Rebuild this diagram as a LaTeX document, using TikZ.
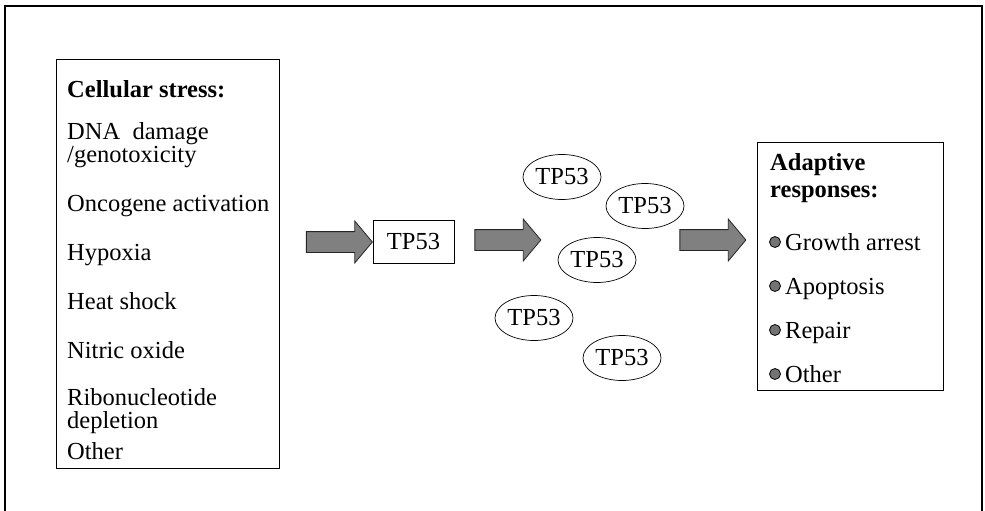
\documentclass[tikz,border=0pt]{standalone}
\usepackage{fontspec}
\setmainfont{Liberation Serif}
\usetikzlibrary{shapes.geometric,shapes.arrows}

\begin{document}
\begin{tikzpicture}[x=1pt,y=-1pt]
\tikzstyle{box}=[draw,line width=0.9pt,inner sep=0pt]
\tikzstyle{txt}=[anchor=base west,inner sep=0pt,align=left,font=\fontsize{24.5}{22.5}\selectfont]
\tikzstyle{head}=[txt,font=\fontsize{24.5}{27}\selectfont\bfseries]
\tikzstyle{protein}=[ellipse,draw,line width=0.7pt,inner sep=0pt,minimum width=78pt,minimum height=45pt,font=\fontsize{24.5}{24}\selectfont]
\tikzstyle{bigarrow}=[single arrow,draw=black!85,fill=black!50,line width=0.8pt,inner xsep=0pt,inner ysep=10pt,minimum height=66pt,single arrow head extend=10.5pt,single arrow tip angle=100]
\tikzstyle{dot}=[circle,draw,fill=black!55,line width=0.8pt,minimum size=11pt,inner sep=0pt]
\useasboundingbox (0,0) rectangle (985,511);
\fill[white] (0,0) rectangle (985,511);
\draw[line width=1.4pt] (5,520) -- (5,6) -- (982,6) -- (982,520);
% cellular stress
\node[box,minimum width=223pt,minimum height=409pt] (stress) at (167.5,263.5) {};
\node[head] (stresstitle) at (67,97) {Cellular stress:};
\foreach \y/\name/\lab in {162/dna/{DNA\ \ damage\\/genotoxicity},211/onco/{Oncogene activation},260/hypo/{Hypoxia},309/heat/{Heat shock},358/nitric/{Nitric oxide},428/ribo/{Ribonucleotide\\depletion},459/stressother/{Other}}
  \node[txt] (\name) at (67,\y) {\lab};
% TP53
\node[bigarrow] (arrA) at (335,242) {};
\node[box,minimum width=81pt,minimum height=43pt,font=\fontsize{24.5}{24}\selectfont] (tp) at (413.5,241.5) {TP53};
\node[bigarrow] (arrB) at (503.5,240) {};
\foreach \pos/\name in {{(562,177)/pA},{(645,206)/pB},{(597,260)/pC},{(534,318)/pD},{(622,358)/pE}}
  \node[protein] (\name) at \pos {TP53};
\node[bigarrow] (arrC) at (708.5,240) {};
% adaptive responses
\node[box,minimum width=186pt,minimum height=248pt] (adapt) at (850,266) {};
\node[head] (adtitle) at (770,197) {Adaptive\\responses:};
\foreach \y/\name/\lab in {250/arrest/{Growth arrest},294/apop/{Apoptosis},338/repair/{Repair},382/adother/{Other}}
{
  \node[dot] (\name dot) at (775,\y-8) {};
  \node[txt] (\name) at (785,\y) {\lab};
}
\end{tikzpicture}
\end{document}
